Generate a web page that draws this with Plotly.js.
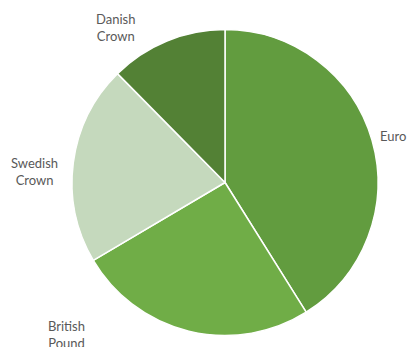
<!DOCTYPE html>
<html>
<head>
<meta charset="utf-8">
<script src="https://cdn.plot.ly/plotly-3.0.1.min.js"></script>
<style>html,body{margin:0;padding:0;background:#fff;}#chart{width:409px;height:347px;}</style>
</head>
<body>
<div id="chart"></div>
<script>
const categories = ["Euro", "British Pound", "Swedish Crown", "Danish Crown"];
const values = [41.1, 25.4, 21.1, 12.4];
const labelTexts = ["Euro", "British<br>Pound", "Swedish<br>Crown", "Danish<br>Crown"];
const colors = ["#629c3f", "#70ad47", "#c5d9bd", "#538135"];

const W = 409, H = 347;
const labelPos = [[393, 136], [66, 334], [34, 171], [116, 28]];

const annotations = categories.map((c, i) => ({
  text: labelTexts[i],
  xref: "paper", yref: "paper",
  x: labelPos[i][0] / W, y: 1 - labelPos[i][1] / H,
  xanchor: "center", yanchor: "middle",
  showarrow: false,
  font: {family: "Lato, 'Open Sans', sans-serif", size: 13, color: "#595959"}
}));

Plotly.newPlot("chart", [{
  type: "pie",
  labels: categories,
  values: values,
  sort: false,
  direction: "clockwise",
  rotation: 0,
  textinfo: "none",
  hoverinfo: "label+percent",
  marker: {colors: colors, line: {color: "#ffffff", width: 1.5}},
  domain: {x: [72 / W, 378 / W], y: [1 - 336 / H, 1 - 29 / H]}
}], {
  width: W, height: H,
  margin: {l: 0, r: 0, t: 0, b: 0},
  showlegend: false,
  paper_bgcolor: "#ffffff",
  annotations: annotations
}, {displayModeBar: false, staticPlot: true});
</script>
</body>
</html>
